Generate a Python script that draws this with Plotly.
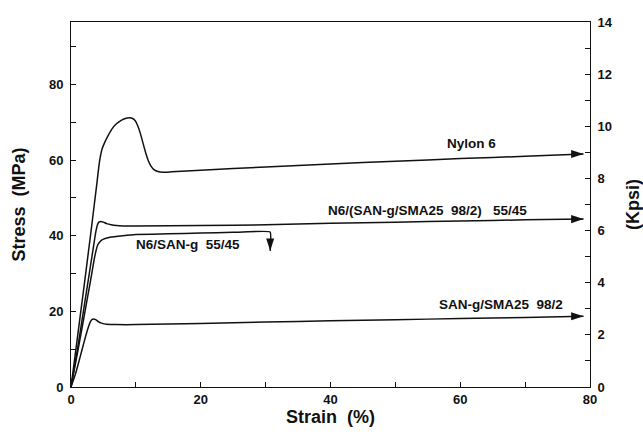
import plotly.graph_objects as go

# ---- data (strain %, stress MPa) ----
nylon_x = [0, 1, 2, 3, 3.5, 4.0, 4.3, 4.55, 4.8, 5.2, 5.7, 6.3, 7.0, 7.8, 8.5, 9.0, 9.5, 9.9, 10.3, 10.7,
           11.1, 11.5, 11.9, 12.3, 12.8, 13.4, 14.2, 15.5, 20, 30, 40, 50, 60, 70, 79]
nylon_y = [0, 13.2, 26.5, 40.0, 47.0, 54.0, 58.5, 61.2, 63.0, 64.7, 66.4, 68.2, 69.6, 70.6, 71.1, 71.2, 71.0, 70.4, 69.0, 67.0,
           64.5, 62.0, 59.9, 58.5, 57.5, 57.0, 56.8, 56.9, 57.3, 58.2, 59.0, 59.7, 60.4, 61.0, 61.6]

blend_x = [0, 1, 2, 3, 3.5, 3.8, 4.05, 4.3, 4.6, 5.0, 5.5, 6.2, 7.0, 8, 10, 20, 30, 40, 50, 60, 70, 79]
blend_y = [0, 10.0, 21.0, 32.0, 37.5, 40.8, 42.8, 43.6, 43.8, 43.6, 43.2, 42.9, 42.7, 42.6, 42.6, 42.7, 42.9, 43.3, 43.6, 43.9, 44.2, 44.4]

sang_x = [0, 1, 2, 3, 3.6, 3.85, 4.1, 4.5, 5.0, 6.0, 8.0, 10, 15, 20, 25, 30.7]
sang_y = [0, 9.0, 18.5, 28.0, 34.0, 36.0, 37.5, 38.5, 39.1, 39.6, 40.0, 40.3, 40.5, 40.7, 40.9, 41.0]
sang_break_drop = 36.0

sanb_x = [0, 0.7, 1.4, 2.0, 2.67, 3.0, 3.25, 3.5, 3.8, 4.2, 4.7, 5.5, 7, 10, 20, 30, 40, 50, 60, 70, 79]
sanb_y = [0, 3.5, 7.9, 11.8, 15.8, 17.3, 17.9, 18.0, 17.8, 17.3, 16.9, 16.6, 16.5, 16.5, 16.8, 17.2, 17.5, 17.8, 18.1, 18.4, 18.7]

labels = ["Nylon 6", "N6/(SAN-g/SMA25  98/2)   55/45", "N6/SAN-g  55/45", "SAN-g/SMA25  98/2"]
label_x = [61.8, 55.0, 18.0, 66.3]
label_y = [64.4, 46.8, 37.6, 21.8]

x_ticks = [0, 20, 40, 60, 80]
y_ticks = [0, 20, 40, 60, 80]
kpsi_ticks = [0, 2, 4, 6, 8, 10, 12, 14]
KPSI_TO_MPA = 6.894757

FONT = "Liberation Sans"
INK = "#111111"

fig = go.Figure()
line = dict(color=INK, width=1.5)
curves = [(nylon_x, nylon_y), (blend_x, blend_y),
          (sang_x + [sang_x[-1]], sang_y + [sang_break_drop]), (sanb_x, sanb_y)]
for xs, ys in curves:
    fig.add_trace(go.Scatter(x=xs, y=ys, mode="lines", line=dict(line, shape="spline", smoothing=0.3),
                             showlegend=False, hoverinfo="skip"))

# arrow heads (marker tip sits on the data point)
fig.add_trace(go.Scatter(
    x=[nylon_x[-1], blend_x[-1], sanb_x[-1], sang_x[-1]],
    y=[nylon_y[-1], blend_y[-1], sanb_y[-1], sang_break_drop],
    mode="markers",
    marker=dict(symbol="arrow", size=13, color=INK, angle=[90, 90, 90, 180], line=dict(width=0)),
    showlegend=False, hoverinfo="skip"))

# dummy trace for right axis
fig.add_trace(go.Scatter(x=[None], y=[None], yaxis="y2", showlegend=False))

annotations = []
for t, lx, ly in zip(labels, label_x, label_y):
    annotations.append(dict(x=lx, y=ly, xref="x", yref="y", text=t, showarrow=False,
                            font=dict(family=FONT, size=13.5, color=INK, weight="bold")))

tickfont = dict(family=FONT, size=13, color=INK, weight="bold")
minor_common = dict(ticks="inside", ticklen=5, tickcolor=INK)
fig.update_layout(
    width=643, height=439,
    margin=dict(l=71, r=53, t=22, b=52),
    paper_bgcolor="white", plot_bgcolor="white",
    annotations=annotations,
    xaxis=dict(range=[0, 80], tickvals=x_ticks, ticks="inside", ticklen=5, tickcolor=INK,
               minor=dict(minor_common, dtick=10), automargin=False,
               showline=True, linecolor=INK, linewidth=1, mirror=True, showgrid=False, zeroline=False,
               tickfont=tickfont,
               title=dict(text="Strain  (%)", font=dict(family=FONT, size=18, color=INK, weight="bold"), standoff=4)),
    yaxis=dict(range=[0, 14 * KPSI_TO_MPA], tickvals=y_ticks, ticks="inside", ticklen=5, tickcolor=INK,
               minor=dict(minor_common, dtick=10), automargin=False,
               showline=True, linecolor=INK, linewidth=1, showgrid=False, zeroline=False,
               tickfont=tickfont, ticklabelstandoff=4,
               title=dict(text="Stress  (MPa)", font=dict(family=FONT, size=18, color=INK, weight="bold"), standoff=18)),
    yaxis2=dict(range=[0, 14], overlaying="y", side="right", tickvals=kpsi_ticks, ticks="inside",
                ticklen=5, tickcolor=INK, minor=dict(minor_common, dtick=1), automargin=False,
                showline=True, linecolor=INK, linewidth=1, showgrid=False, zeroline=False,
                tickfont=tickfont, ticklabelstandoff=4,
                title=dict(text="(Kpsi)", font=dict(family=FONT, size=18, color=INK, weight="bold"), standoff=16)),
)

fig.write_html("out.html")
